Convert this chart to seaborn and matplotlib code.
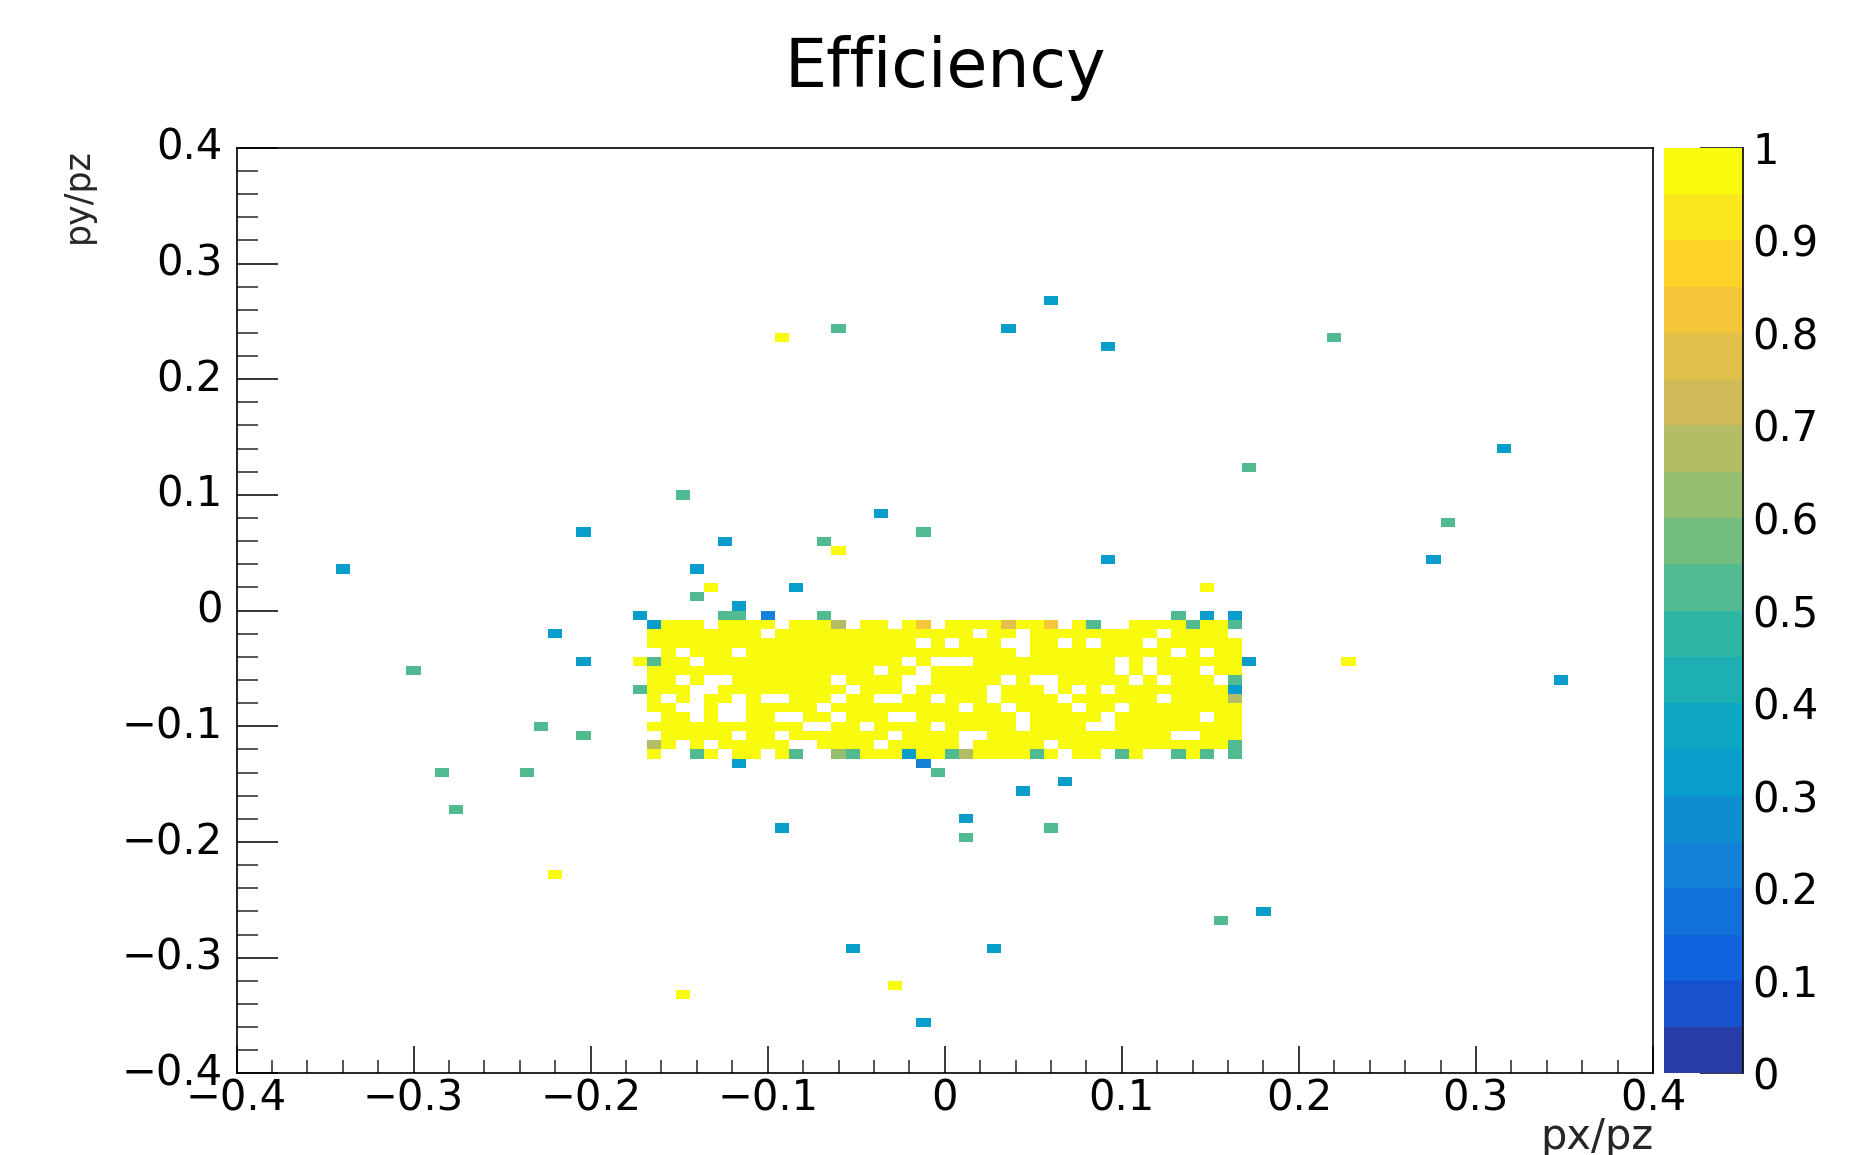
import numpy as np
import pandas as pd
import matplotlib
matplotlib.use("Agg")
import matplotlib.pyplot as plt
from matplotlib.colors import ListedColormap, BoundaryNorm
import seaborn as sns

# ------------------------------------------------------------------ data
BIN_WIDTH = 0.008
X_RANGE = (-0.4, 0.4)
Y_RANGE = (-0.4, 0.4)

# efficiency value represented by each code letter in the core map
LEVELS = {"Y": 1.0, "o": 0.82, "n": 0.77, "k": 0.67, "g": 0.62,
          "t": 0.5, "b": 0.333, "d": 0.22}

# dense core: one string per y-bin (top to bottom), one char per x-bin
CORE_X_LEFT = -0.176   # left edge of first character column
CORE_Y_TOP = 0.008     # top edge of first string row
CORE_ROWS = [
    ".......b.." ".........." ".........." ".........." ".....",
    "b.....tt.d" "...t......" ".........." "........t." "b.b..",
    ".bYYY.YYYY" ".YYYk.YY.Y" "o.YYYYnYYo" ".Yt..YYYYt" "YYt..",
    ".YYYYYYYY." "YYYYYYYYYY" "YYYY.YY.YY" "YYYYYYY.YY" "YY...",
    ".YYYYYYYYY" "YYYYYYYYYY" ".Y.YYY..YY" ".Y.YYY.YYY" "YYY..",
    "..Y.YYY.YY" "YYYYYYYYYY" "YYYYYYY.YY" "YYYYYYYY.Y" ".YY..",
    "YtYY.YYYYY" "YYYYYYYYY." "Y...YYYYYY" "YYYY.Y.YYY" "YYYb.",
    ".YYYYYYYYY" "YYYYYYY.YY" ".YYYYYYYYY" "YYYY.Y.YYY" ".YY..",
    ".YY.Y..YYY" "YYYY.YYYY." ".YYYYY.Y.." "YYYYY.Y.YY" "Y.t..",
    "tYYY..YYYY" "YYYYY.YYY." "YYYYY.YYY." "Y.Y.YYYYYY" "YYb..",
    ".Y.Y.YY.Y." ".YYY.YY..Y" "Y.YYY.YYYY" ".YYYYYY.YY" "YYk..",
    ".YY..Y..YY" "YYY.YYYYYY" "YYY.YY.YYY" "Y.YY.YYYYY" "YYY..",
    "..YY.Y..YY" "..YY.YYY.." "YYYYYYY.YY" "YYY.YYYYYY" ".YY..",
    ".YYYYYYYYY" "YY..YY.YYY" "Y.YYYYY.YY" "YY..YYYYYY" "YYY..",
    "..YYYYY.YY" ".YYYYYYY.Y" "YYY..YYYYY" "YYYYYYYY.." "YYY..",
    ".kY.Y.YYYY" "Y..YYYY.YY" "YYY.YYYYY." "YYYYYYYYYY" "YYt..",
    ".Y..tY.YY." "Yt..gtYYYb" "YYtkYYYYtY" ".YY.tY..tY" "t.t..",
    ".......b.." ".........." "d........." ".........." ".....",
    ".........." ".........." ".t........" ".........." ".....",
]

# isolated bins outside the core (bin centres) and their efficiency
SCAT_X = [0.060, 0.036, -0.060, -0.092, 0.092, 0.220, 0.316, 0.172, -0.148,
          -0.036, 0.284, -0.204, -0.012, -0.124, -0.068, -0.060, 0.092, 0.276,
          -0.340, -0.140, -0.132, -0.084, 0.148, -0.140, -0.220, -0.204, 0.228,
          -0.300, 0.348, -0.228, -0.204, -0.284, -0.236, 0.068, 0.044, -0.276,
          0.012, -0.092, 0.060, 0.012, -0.220, 0.180, 0.156, -0.052, 0.028,
          -0.028, -0.148, -0.012]
SCAT_Y = [0.268, 0.244, 0.244, 0.236, 0.228, 0.236, 0.140, 0.124, 0.100,
          0.084, 0.076, 0.068, 0.068, 0.060, 0.060, 0.052, 0.044, 0.044,
          0.036, 0.036, 0.020, 0.020, 0.020, 0.012, -0.020, -0.044, -0.044,
          -0.052, -0.060, -0.100, -0.108, -0.140, -0.140, -0.148, -0.156, -0.172,
          -0.180, -0.188, -0.188, -0.196, -0.228, -0.260, -0.268, -0.292, -0.292,
          -0.324, -0.332, -0.356]
SCAT_V = [0.333, 0.333, 0.5, 1.0, 0.333, 0.5, 0.333, 0.5, 0.5,
          0.333, 0.5, 0.333, 0.5, 0.333, 0.5, 1.0, 0.333, 0.333,
          0.333, 0.333, 1.0, 0.333, 1.0, 0.5, 0.333, 0.333, 1.0,
          0.5, 0.333, 0.5, 0.5, 0.5, 0.5, 0.333, 0.333, 0.5,
          0.333, 0.333, 0.5, 0.5, 1.0, 0.333, 0.5, 0.333, 0.333,
          1.0, 1.0, 0.333]

X_TICKS = [-0.4, -0.3, -0.2, -0.1, 0.0, 0.1, 0.2, 0.3, 0.4]
Y_TICKS = [-0.4, -0.3, -0.2, -0.1, 0.0, 0.1, 0.2, 0.3, 0.4]
Z_TICKS = [0.0, 0.1, 0.2, 0.3, 0.4, 0.5, 0.6, 0.7, 0.8, 0.9, 1.0]
N_CONTOURS = 20

TITLE = "Efficiency"
X_LABEL = "px/pz"
Y_LABEL = "py/pz"

# ------------------------------------------------------------------ table
recs = []
for r, row in enumerate(CORE_ROWS):
    yc = CORE_Y_TOP - (r + 0.5) * BIN_WIDTH
    for c, ch in enumerate(row):
        if ch in LEVELS:
            recs.append((CORE_X_LEFT + (c + 0.5) * BIN_WIDTH, yc, LEVELS[ch]))
for x, y, v in zip(SCAT_X, SCAT_Y, SCAT_V):
    recs.append((x, y, v))
df = pd.DataFrame(recs, columns=["x", "y", "eff"])

nx = int(round((X_RANGE[1] - X_RANGE[0]) / BIN_WIDTH))
ny = int(round((Y_RANGE[1] - Y_RANGE[0]) / BIN_WIDTH))
df["ix"] = np.floor((df["x"] - X_RANGE[0]) / BIN_WIDTH).astype(int)
df["iy"] = np.floor((Y_RANGE[1] - df["y"]) / BIN_WIDTH).astype(int)
grid = (df.pivot_table(index="iy", columns="ix", values="eff", aggfunc="mean")
          .reindex(index=range(ny), columns=range(nx)))

# ------------------------------------------------------------------ palette (ROOT kBird, 20 contours)
stops = [0.0, 0.125, 0.25, 0.375, 0.5, 0.625, 0.75, 0.875, 1.0]
R = [0.2082, 0.0592, 0.0780, 0.0232, 0.1802, 0.5301, 0.8186, 0.9956, 0.9764]
G = [0.1664, 0.3599, 0.5041, 0.6419, 0.7178, 0.7492, 0.7328, 0.7862, 0.9832]
B = [0.5293, 0.8684, 0.8385, 0.7914, 0.6425, 0.4662, 0.3499, 0.1968, 0.0539]
band_cols = []
for k in range(N_CONTOURS):
    p = int((k + 0.99) * 255 / N_CONTOURS) / 254.0
    band_cols.append((np.interp(p, stops, R), np.interp(p, stops, G), np.interp(p, stops, B)))
cmap = ListedColormap(band_cols)
cmap.set_over(band_cols[-1])
cmap.set_under(band_cols[0])
norm = BoundaryNorm(np.linspace(0, 1, N_CONTOURS + 1), N_CONTOURS)

# ------------------------------------------------------------------ figure
sns.set_theme(style="white")
plt.rcParams["font.family"] = ["DejaVu Sans"]
plt.rcParams["axes.unicode_minus"] = True

W, H = 1854, 1155
fig = plt.figure(figsize=(W / 100, H / 100), dpi=100, facecolor="white")
ax_l, ax_r, ax_t, ax_b = 236.5, 1653.0, 147.8, 1073.4
ax = fig.add_axes([ax_l / W, 1 - ax_b / H, (ax_r - ax_l) / W, (ax_b - ax_t) / H])
cax = fig.add_axes([1663.6 / W, 1 - ax_b / H, (1743.0 - 1663.6) / W, (ax_b - ax_t) / H])

sns.heatmap(grid, ax=ax, cbar_ax=cax, cmap=cmap, norm=norm,
            xticklabels=False, yticklabels=False,
            cbar_kws={"ticks": Z_TICKS})

for sp in ax.spines.values():
    sp.set_visible(True)
    sp.set_color("black")
    sp.set_linewidth(1.2)


def fmt(v):
    s = f"{v:g}"
    if s in ("-0", "0.0"):
        s = "0"
    return s.replace("-", "\u2212")


def xpos(v):
    return (v - X_RANGE[0]) / BIN_WIDTH


def ypos(v):
    return (Y_RANGE[1] - v) / BIN_WIDTH


x_minor = np.round(np.arange(X_RANGE[0], X_RANGE[1] + 1e-9, 0.02), 3)
y_minor = np.round(np.arange(Y_RANGE[0], Y_RANGE[1] + 1e-9, 0.02), 3)
ax.set_xticks([xpos(v) for v in X_TICKS])
ax.set_xticklabels([fmt(v) for v in X_TICKS])
ax.set_xticks([xpos(v) for v in x_minor], minor=True)
ax.set_yticks([ypos(v) for v in Y_TICKS])
ax.set_yticklabels([fmt(v) for v in Y_TICKS])
ax.set_yticks([ypos(v) for v in y_minor], minor=True)
ax.set_xlim(0, nx)
ax.set_ylim(ny, 0)

ax.tick_params(axis="x", which="major", direction="in", length=19.4, width=1.1,
               bottom=True, top=False, labelsize=30, pad=3, colors="black")
ax.tick_params(axis="x", which="minor", direction="in", length=9.7, width=1.1,
               bottom=True, top=False)
ax.tick_params(axis="y", which="major", direction="in", length=29.5, width=1.1,
               left=True, right=False, labelsize=30, pad=10, colors="black")
ax.tick_params(axis="y", which="minor", direction="in", length=14.8, width=1.1,
               left=True, right=False)
for lab in ax.get_yticklabels():
    lab.set_rotation(0)
    lab.set_va("center")

ax.set_xlabel(X_LABEL, fontsize=30, ha="right", va="center")
ax.xaxis.set_label_coords(1.0, -0.069)
ax.set_ylabel(Y_LABEL, fontsize=25, ha="right", va="center")
ax.yaxis.set_label_coords(-0.112, 1.0)

# colour bar styled as a ROOT palette axis
cbar = ax.collections[0].colorbar
cbar.outline.set_visible(False)
cbar.minorticks_off()
cbar.set_ticks(Z_TICKS)
cbar.set_ticklabels([fmt(v) for v in Z_TICKS])
cax.tick_params(axis="y", which="major", direction="in", length=30.7, width=1.1,
                right=True, left=False, labelright=True, labelleft=False,
                labelsize=30, pad=7, colors="black")
cax.spines["right"].set_visible(True)
cax.spines["right"].set_color("black")
cax.spines["right"].set_linewidth(1.2)

fig.text(0.51, 0.941, TITLE, ha="center", va="center", fontsize=48, color="black")

fig.savefig("out.png", dpi=100, facecolor="white")
